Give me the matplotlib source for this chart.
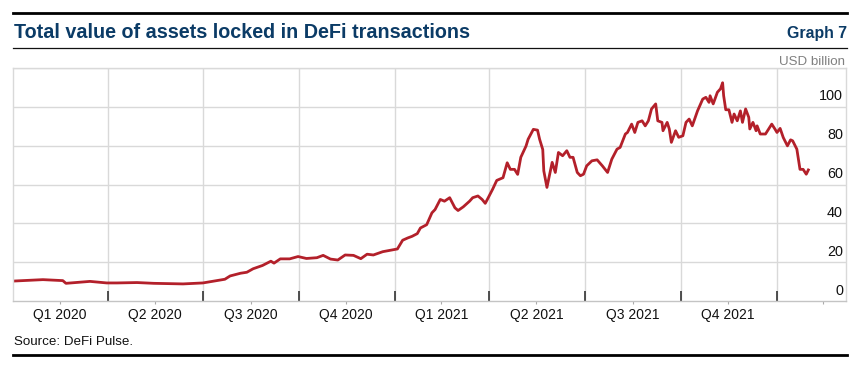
import matplotlib
matplotlib.use("Agg")
import matplotlib.pyplot as plt
import matplotlib.dates as mdates
from matplotlib.lines import Line2D
import pandas as pd

# --- data (USD billion) ---
dates = [
    "2020-01-03", "2020-01-30", "2020-02-18", "2020-02-21", "2020-03-15", "2020-03-31",
    "2020-04-10", "2020-04-29", "2020-05-15", "2020-06-12", "2020-07-01", "2020-07-11",
    "2020-07-22", "2020-07-27", "2020-08-06", "2020-08-12", "2020-08-18", "2020-08-27",
    "2020-09-04", "2020-09-07", "2020-09-13", "2020-09-22", "2020-09-30", "2020-10-08",
    "2020-10-18", "2020-10-24", "2020-10-31", "2020-11-07", "2020-11-14", "2020-11-22",
    "2020-11-29", "2020-12-05", "2020-12-11", "2020-12-20", "2020-12-27",
    "2021-01-03", "2021-01-08", "2021-01-13", "2021-01-17", "2021-01-22", "2021-01-25",
    "2021-01-31", "2021-02-05", "2021-02-08", "2021-02-13", "2021-02-17", "2021-02-22",
    "2021-02-27", "2021-03-02", "2021-03-07", "2021-03-13", "2021-03-16", "2021-03-21",
    "2021-03-25", "2021-03-28", "2021-03-30", "2021-04-04", "2021-04-08", "2021-04-14",
    "2021-04-18", "2021-04-21", "2021-04-25", "2021-04-28", "2021-05-01", "2021-05-06",
    "2021-05-08", "2021-05-13", "2021-05-17", "2021-05-19", "2021-05-22", "2021-05-23",
    "2021-05-26", "2021-05-31", "2021-06-03", "2021-06-06", "2021-06-10", "2021-06-14",
    "2021-06-17", "2021-06-20", "2021-06-24", "2021-06-27", "2021-06-30", "2021-07-03",
    "2021-07-08", "2021-07-13", "2021-07-18", "2021-07-23", "2021-07-27", "2021-08-01",
    "2021-08-04", "2021-08-09", "2021-08-11", "2021-08-15", "2021-08-18", "2021-08-21",
    "2021-08-25", "2021-08-28", "2021-08-31", "2021-09-03", "2021-09-07", "2021-09-09",
    "2021-09-13", "2021-09-14", "2021-09-18", "2021-09-20", "2021-09-22", "2021-09-26",
    "2021-09-29", "2021-10-03", "2021-10-06", "2021-10-09", "2021-10-12", "2021-10-17",
    "2021-10-22", "2021-10-25", "2021-10-28", "2021-10-29", "2021-11-01", "2021-11-05",
    "2021-11-08", "2021-11-10", "2021-11-11", "2021-11-13", "2021-11-16", "2021-11-19",
    "2021-11-21", "2021-11-24", "2021-11-27", "2021-11-29", "2021-12-02", "2021-12-05",
    "2021-12-06", "2021-12-09", "2021-12-12", "2021-12-13", "2021-12-16", "2021-12-21",
    "2021-12-24", "2021-12-27", "2021-12-30",
    "2022-01-01", "2022-01-04", "2022-01-07", "2022-01-11", "2022-01-14", "2022-01-16",
    "2022-01-20", "2022-01-23", "2022-01-26", "2022-01-29", "2022-01-31",
]
tvl = [
    10.3, 11.0, 10.5, 9.1, 10.1, 9.3, 9.3, 9.5, 9.1, 8.8,
    9.3, 10.2, 11.2, 12.9, 14.3, 14.8, 16.6, 18.3, 20.5, 19.5,
    21.7, 21.7, 22.9, 21.9, 22.3, 23.5, 21.6, 21.1, 23.7, 23.5,
    21.8, 24.1, 23.7, 25.4, 26.1,
    26.8, 31.3, 32.5, 33.3, 34.7, 37.6, 39.3, 45.4, 47.1, 52.3,
    51.4, 53.2, 48.0, 46.6, 48.5, 51.4, 53.2, 54.1, 52.3, 50.3,
    52.3, 57.5, 62.1, 63.5, 71.2, 67.8, 67.8, 65.2, 74.0, 79.8,
    83.3, 88.4, 88.0, 83.3, 78.0, 67.0, 58.5, 71.4, 66.2, 76.5,
    74.8, 77.4, 74.0, 74.0, 66.2, 64.5, 65.3, 69.6, 72.2, 72.7,
    69.6, 66.2, 73.0, 78.2, 79.1, 86.0, 86.8, 91.1, 86.8, 92.0,
    92.8, 90.2, 92.8, 98.9, 101.5, 92.8, 92.0, 87.7, 92.0, 88.6,
    81.7, 87.7, 84.3, 85.1, 92.0, 93.7, 90.2, 97.9, 104.0, 104.9,
    102.3, 105.7, 101.5, 107.5, 109.3, 112.4, 105.7, 98.5, 98.5, 92.0,
    96.3, 92.8, 97.9, 92.0, 98.9, 94.6, 88.6, 92.0, 87.7, 90.2,
    86.0, 86.0, 88.6, 91.1, 88.6, 86.8, 88.9, 84.2, 79.9, 83.0,
    82.5, 78.2, 67.8, 67.8, 65.3, 67.5,
]

quarter_starts = ["2020-04-01", "2020-07-01", "2020-10-01", "2021-01-01",
                  "2021-04-01", "2021-07-01", "2021-10-01", "2022-01-01"]
quarter_mids = ["2020-02-15", "2020-05-16", "2020-08-16", "2020-11-15",
                "2021-02-14", "2021-05-16", "2021-08-16", "2021-11-15", "2022-02-14"]
quarter_labels = ["Q1 2020", "Q2 2020", "Q3 2020", "Q4 2020",
                  "Q1 2021", "Q2 2021", "Q3 2021", "Q4 2021", ""]
y_grid = [20, 40, 60, 80, 100, 120]
y_labels = [0, 20, 40, 60, 80, 100]

plt.rcParams["font.family"] = ["Liberation Sans", "DejaVu Sans"]

W, H = 866, 368
fig = plt.figure(figsize=(W / 100, H / 100), dpi=100)
ax = fig.add_axes([12.6 / W, 67 / H, 833.4 / W, 233 / H])

x = pd.to_datetime(dates)
ax.plot(x, tvl, color="#b3202a", lw=2.0, solid_joinstyle="round")

ax.set_xlim(pd.Timestamp("2020-01-01"), pd.Timestamp("2022-03-08"))
ax.set_ylim(0, 120)

grid_c = "#d9d9d9"
ax.set_yticks(y_grid)
ax.tick_params(axis="y", length=0, labelleft=False, labelright=False)
ax.grid(axis="y", color=grid_c, lw=1.0)

ax.set_xticks(pd.to_datetime(quarter_starts))
ax.set_xticks(pd.to_datetime(quarter_mids), minor=True)
ax.set_xticklabels([""] * len(quarter_starts))
ax.set_xticklabels(quarter_labels, minor=True)
ax.grid(axis="x", which="major", color=grid_c, lw=1.0)
ax.tick_params(axis="x", which="major", direction="in", length=7, width=1.2, color="#333333")
ax.tick_params(axis="x", which="minor", direction="out", length=2.5, width=0.8,
               color="#aaaaaa", labelsize=10, pad=2.5, labelcolor="#111111")
ax.set_axisbelow(True)

for s in ax.spines.values():
    s.set_color(grid_c)
    s.set_linewidth(1.0)
ax.spines["bottom"].set_color("#c4c4c4")

for v in y_labels:
    ax.annotate(str(v), xy=(0.9964, v), xycoords=("axes fraction", "data"),
                xytext=(0, 2.5), textcoords="offset points",
                ha="right", va="bottom", fontsize=10.4, color="#111111")

# header / footer
navy = "#0b3b66"
fig.text(14 / W, 1 - 38.3 / H, "Total value of assets locked in DeFi transactions",
         fontsize=14.2, fontweight="bold", color=navy, va="baseline", ha="left")
fig.text(847 / W, 1 - 37.7 / H, "Graph 7", fontsize=11.4, fontweight="bold",
         color=navy, va="baseline", ha="right")
fig.text(845 / W, 1 - 65 / H, "USD billion", fontsize=9.6, color="#808080",
         va="baseline", ha="right")
fig.text(14 / W, 1 - 345 / H, "Source: DeFi Pulse.", fontsize=9.6, color="#111111",
         va="baseline", ha="left")

fig.add_artist(Line2D([13.3 / W, 847 / W], [1 - 13.3 / H] * 2, color="black", lw=2.0,
                      transform=fig.transFigure))
fig.add_artist(Line2D([13.3 / W, 847 / W], [1 - 48.3 / H] * 2, color="#111111", lw=0.9,
                      transform=fig.transFigure))
fig.add_artist(Line2D([13.3 / W, 847 / W], [1 - 355.3 / H] * 2, color="black", lw=2.0,
                      transform=fig.transFigure))

fig.savefig("out.png", dpi=100)
